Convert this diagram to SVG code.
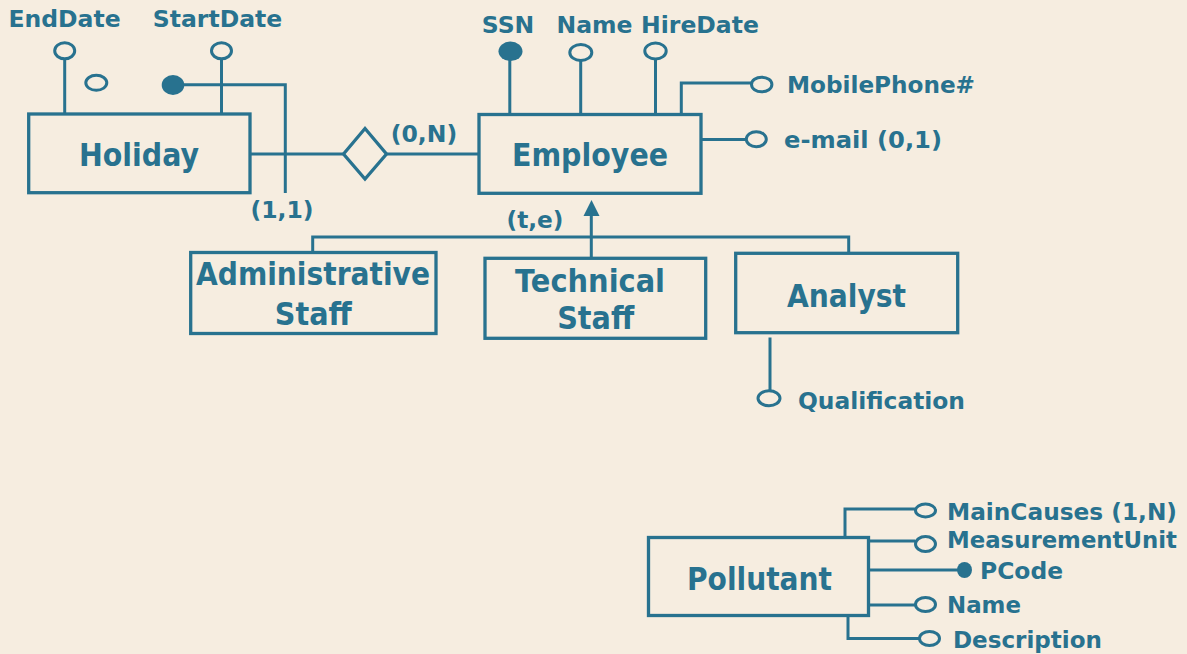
<svg xmlns="http://www.w3.org/2000/svg" width="1187" height="654" viewBox="0 0 1187 654">
<defs>
<style>
.bg{fill:#f6ede0}
.box{fill:none;stroke:#28728f;stroke-width:3.3}
.ln{fill:none;stroke:#28728f;stroke-width:3}
.oc{fill:#f6ede0;stroke:#28728f;stroke-width:3}
.fc{fill:#28728f;stroke:none}
.t{font-family:"DejaVu Sans","Liberation Sans",sans-serif;font-weight:bold;fill:#28728f}
.lab{font-size:23.5px}
.big{font-size:32px;text-anchor:middle}
</style>
</defs>
<rect class="bg" x="0" y="0" width="1187" height="654"/>
<g id="connectors">
<line class="ln" x1="64.7" y1="59" x2="64.7" y2="114"/>
<line class="ln" x1="221.5" y1="59" x2="221.5" y2="114"/>
<polyline class="ln" points="175,84.7 285.3,84.7 285.3,193"/>
<line class="ln" x1="250" y1="154" x2="343.5" y2="154"/>
<line class="ln" x1="386.5" y1="154" x2="479" y2="154"/>
<line class="ln" x1="509.8" y1="55" x2="509.8" y2="114"/>
<line class="ln" x1="580.7" y1="60" x2="580.7" y2="114"/>
<line class="ln" x1="655.5" y1="59" x2="655.5" y2="114"/>
<polyline class="ln" points="681.3,114 681.3,83 751,83"/>
<line class="ln" x1="701" y1="139.5" x2="746" y2="139.5"/>
<line class="ln" x1="591.3" y1="258" x2="591.3" y2="212"/>
<polygon points="591.5,200 599.5,216 583.5,216" fill="#28728f"/>
<polyline class="ln" points="312.7,252.5 312.7,237 848.7,237 848.7,253"/>
<line class="ln" x1="770" y1="337.5" x2="770" y2="390"/>
<polyline class="ln" points="845,537.5 845,509 915,509"/>
<line class="ln" x1="868.5" y1="541" x2="915" y2="541"/>
<line class="ln" x1="868.5" y1="570" x2="958" y2="570"/>
<line class="ln" x1="868.5" y1="605" x2="915" y2="605"/>
<polyline class="ln" points="848,615.5 848,638.5 919,638.5"/>
</g>
<g id="holiday">
<rect class="box" x="28.7" y="114" width="221.3" height="78.7"/>
<text class="t big" x="139" y="166" textLength="120" lengthAdjust="spacingAndGlyphs">Holiday</text>
</g>
<g id="holiday-attrs">
<ellipse class="oc" cx="64.7" cy="50.8" rx="10" ry="8"/>
<text class="t lab" x="64.5" y="27" text-anchor="middle">EndDate</text>
<ellipse class="oc" cx="221.5" cy="50.8" rx="10" ry="8"/>
<text class="t lab" x="217.5" y="27" text-anchor="middle">StartDate</text>
<ellipse class="oc" cx="96.3" cy="82.8" rx="10.5" ry="7.5"/>
<ellipse class="fc" cx="173" cy="85" rx="11.3" ry="10"/>
<text class="t lab" x="282" y="218" text-anchor="middle">(1,1)</text>
</g>
<g id="relationship">
<polygon class="box" points="343.5,154 365,128.5 386.5,154 365,179"/>
<text class="t lab" x="424" y="141.5" text-anchor="middle">(0,N)</text>
</g>
<g id="employee">
<rect class="box" x="479" y="114.5" width="222" height="78.8"/>
<text class="t big" x="590" y="166" textLength="156" lengthAdjust="spacingAndGlyphs">Employee</text>
</g>
<g id="employee-attrs">
<ellipse class="fc" cx="510.5" cy="51.3" rx="12" ry="9.7"/>
<text class="t lab" x="508" y="33" text-anchor="middle">SSN</text>
<ellipse class="oc" cx="580.8" cy="52.5" rx="11" ry="8"/>
<text class="t lab" x="594.5" y="33" text-anchor="middle">Name</text>
<ellipse class="oc" cx="655.5" cy="51" rx="10.7" ry="8"/>
<text class="t lab" x="700" y="33" text-anchor="middle">HireDate</text>
<ellipse class="oc" cx="761.7" cy="84.5" rx="10.2" ry="7.3"/>
<text class="t lab" x="787" y="93" textLength="188" lengthAdjust="spacingAndGlyphs">MobilePhone#</text>
<ellipse class="oc" cx="756.3" cy="139.2" rx="10" ry="7.5"/>
<text class="t lab" x="784" y="147.5" textLength="158" lengthAdjust="spacingAndGlyphs">e-mail (0,1)</text>
</g>
<g id="isa">
<text class="t lab" x="535" y="228" text-anchor="middle" textLength="57" lengthAdjust="spacingAndGlyphs">(t,e)</text>
</g>
<g id="admin">
<rect class="box" x="190.7" y="252.5" width="245.3" height="81"/>
<text class="t big" x="313" y="285" textLength="234" lengthAdjust="spacingAndGlyphs">Administrative</text>
<text class="t big" x="313.3" y="325" textLength="77" lengthAdjust="spacingAndGlyphs">Staff</text>
</g>
<g id="technical">
<rect class="box" x="485" y="258.3" width="220.7" height="80"/>
<text class="t big" x="590" y="291.7" textLength="150" lengthAdjust="spacingAndGlyphs">Technical</text>
<text class="t big" x="595.7" y="328.5" textLength="77" lengthAdjust="spacingAndGlyphs">Staff</text>
</g>
<g id="analyst">
<rect class="box" x="735.7" y="253.3" width="222" height="79.4"/>
<text class="t big" x="846.5" y="306.5" textLength="119" lengthAdjust="spacingAndGlyphs">Analyst</text>
<ellipse class="oc" cx="769" cy="398.3" rx="11" ry="7.5"/>
<text class="t lab" x="798" y="409" textLength="167" lengthAdjust="spacingAndGlyphs">Qualification</text>
</g>
<g id="pollutant">
<rect class="box" x="648.5" y="537.5" width="220" height="78"/>
<text class="t big" x="759.5" y="590" textLength="145" lengthAdjust="spacingAndGlyphs">Pollutant</text>
</g>
<g id="pollutant-attrs">
<ellipse class="oc" cx="925.5" cy="510.5" rx="10" ry="6.5"/>
<text class="t lab" x="947" y="520" textLength="230" lengthAdjust="spacingAndGlyphs">MainCauses (1,N)</text>
<ellipse class="oc" cx="925.5" cy="544" rx="10" ry="7.5"/>
<text class="t lab" x="947" y="547.5" textLength="230" lengthAdjust="spacingAndGlyphs">MeasurementUnit</text>
<ellipse class="fc" cx="964.5" cy="570" rx="7.5" ry="8"/>
<text class="t lab" x="980" y="579" textLength="83" lengthAdjust="spacingAndGlyphs">PCode</text>
<ellipse class="oc" cx="925.5" cy="604.5" rx="10" ry="7"/>
<text class="t lab" x="947" y="613" textLength="74" lengthAdjust="spacingAndGlyphs">Name</text>
<ellipse class="oc" cx="929.5" cy="638.5" rx="10" ry="7"/>
<text class="t lab" x="953" y="648" textLength="149" lengthAdjust="spacingAndGlyphs">Description</text>
</g>
</svg>
